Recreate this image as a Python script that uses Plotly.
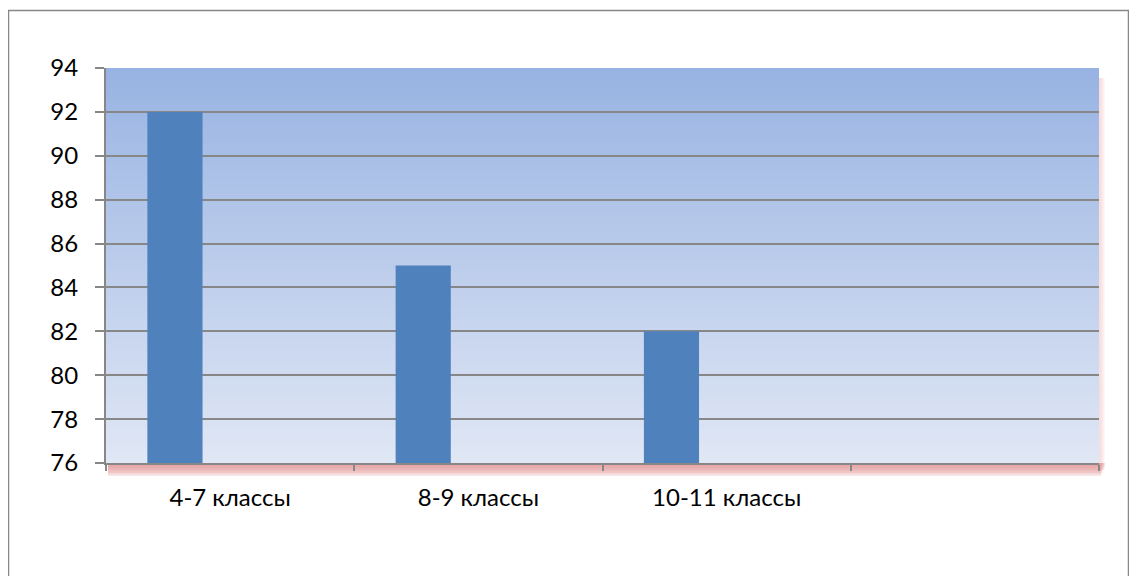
import plotly.graph_objects as go

categories = ["4-7 классы", "8-9 классы", "10-11 классы", " "]
series1 = [92, 85, 82, None]
series2 = [None, None, None, None]
series3 = [None, None, None, None]
y_ticks = [76, 78, 80, 82, 84, 86, 88, 90, 92, 94]

# the page body has an 8px margin, so work in figure coords = page coords - 8
OFF = 8
W, H = 1137 - OFF, 576 - OFF
L, R, T, B = 106 - OFF, 1099 - OFF, 68 - OFF, 463 - OFF

fig = go.Figure()
for name, vals in [("Ряд 1", series1), ("Ряд 2", series2), ("Ряд 3", series3)]:
    fig.add_trace(go.Bar(x=categories, y=vals, name=name,
                         marker=dict(color="#4F81BD", line=dict(width=0))))

def pxx(px):
    return (px - OFF - L) / (R - L)

def pxy(py):
    return (B - (py - OFF)) / (B - T)

shapes = []
# pink shadow under the x axis and along the right edge
for j in range(8):
    a = 0.12 + 0.08 * (8 - j) / 8
    shapes.append(dict(type="rect", xref="paper", yref="paper",
                       x0=pxx(108), x1=pxx(1101 + j * 0.6),
                       y0=pxy(463 + 13 - j * 1.5), y1=pxy(463),
                       fillcolor="rgba(225,140,140,%.3f)" % a, line=dict(width=0), layer="below"))
    shapes.append(dict(type="rect", xref="paper", yref="paper",
                       x0=pxx(1099), x1=pxx(1105 - j * 0.7),
                       y0=pxy(470), y1=pxy(78),
                       fillcolor="rgba(240,175,175,%.3f)" % (a * 0.35), line=dict(width=0), layer="below"))
# gradient background (overlapping rects to avoid seams)
n = 120
top = (152, 179, 226)
bot = (224, 231, 245)
for i in range(n):
    f = i / (n - 1)
    c = tuple(round(top[k] + (bot[k] - top[k]) * f) for k in range(3))
    shapes.append(dict(type="rect", xref="x domain", yref="y domain",
                       x0=0, x1=1, y0=0, y1=1 - i / n,
                       fillcolor="rgb(%d,%d,%d)" % c, line=dict(width=0), layer="below"))
# outer chart border
shapes.append(dict(type="rect", xref="paper", yref="paper",
                   x0=pxx(8.5), x1=pxx(1128.5),
                   y0=pxy(620), y1=pxy(10.5),
                   line=dict(color="#878787", width=1.5), fillcolor="rgba(0,0,0,0)", layer="below"))

fig.update_layout(
    width=W, height=H,
    margin=dict(l=L, r=W - R, t=T, b=H - B, autoexpand=False),
    paper_bgcolor="white",
    plot_bgcolor="rgba(0,0,0,0)",
    barmode="group",
    bargap=1.5 / 4.5,
    bargroupgap=0,
    showlegend=False,
    shapes=shapes,
    font=dict(family="Lato, Carlito, Calibri, sans-serif", size=24, color="black"),
    xaxis=dict(
        type="category", categoryorder="array", categoryarray=categories,
        tickson="boundaries", ticks="outside", ticklen=6, tickcolor="#878787", tickwidth=2,
        showline=True, linecolor="#878787", linewidth=2,
        showgrid=False, tickfont=dict(size=24), ticklabelstandoff=12,
        range=[-0.5, 3.5], fixedrange=True,
    ),
    yaxis=dict(
        range=[76, 94], tickvals=y_ticks, ticks="outside", ticklen=9,
        tickcolor="#878787", tickwidth=1.5,
        showline=True, linecolor="#878787", linewidth=2,
        showgrid=True, gridcolor="#878787", gridwidth=1.5,
        zeroline=False, tickfont=dict(size=24), ticklabelstandoff=12,
    ),
)

fig.write_html("out.html")
